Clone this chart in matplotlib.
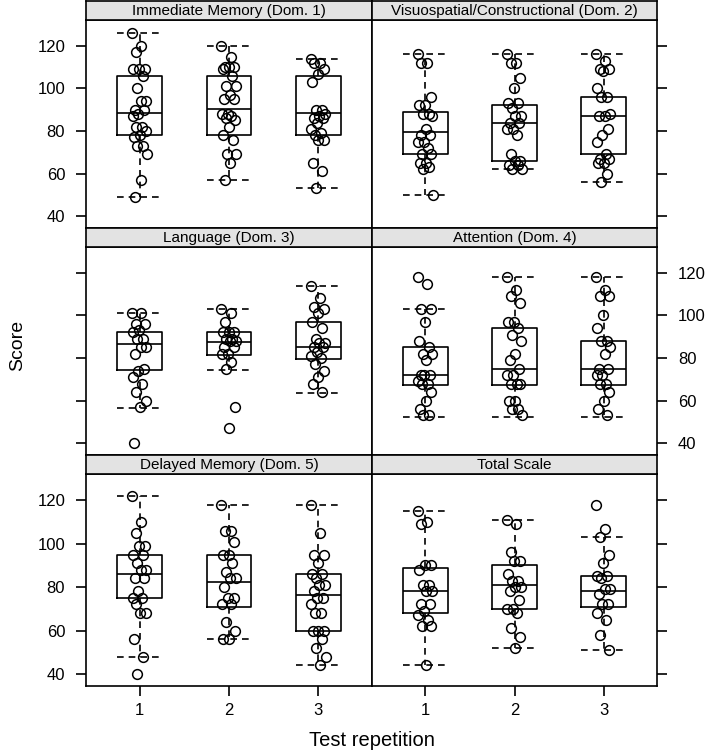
import numpy as np
import matplotlib.pyplot as plt

plt.rcParams['font.family'] = ['Liberation Sans', 'DejaVu Sans']

titles = ["Immediate Memory (Dom. 1)", "Visuospatial/Constructional (Dom. 2)",
          "Language (Dom. 3)", "Attention (Dom. 4)",
          "Delayed Memory (Dom. 5)", "Total Scale"]
reps = [1, 2, 3]

# scores per test repetition
im_pts = [[126, 120, 117, 109, 109, 109, 106, 100, 94, 94, 90, 90, 88, 87, 82, 82, 80, 78, 77, 73, 73, 69, 57, 49],
          [120, 115, 110, 110, 110, 109, 106, 101, 101, 97, 95, 95, 88, 88, 87, 86, 85, 82, 78, 76, 69, 69, 65, 57],
          [114, 112, 112, 109, 107, 103, 90, 90, 88, 87, 86, 86, 84, 81, 79, 78, 76, 76, 65, 61, 53]]
vis_pts = [[116, 112, 112, 96, 92, 92, 88, 88, 87, 81, 78, 78, 75, 75, 72, 69, 69, 65, 65, 63, 62, 50],
           [116, 112, 112, 105, 100, 93, 93, 91, 87, 87, 84, 84, 81, 81, 78, 69, 66, 66, 64, 64, 62, 62],
           [116, 113, 109, 109, 108, 100, 96, 96, 88, 87, 87, 81, 78, 75, 69, 67, 67, 65, 65, 60, 56]]
lang_pts = [[101, 101, 96, 96, 93, 92, 89, 89, 85, 85, 82, 75, 74, 71, 68, 64, 60, 57, 40],
            [103, 101, 97, 92, 92, 92, 89, 89, 88, 88, 85, 85, 82, 82, 78, 75, 57, 47],
            [114, 108, 104, 103, 101, 97, 94, 89, 87, 87, 85, 85, 83, 81, 80, 77, 74, 71, 68, 64]]
att_pts = [[118, 115, 103, 103, 97, 88, 85, 82, 82, 79, 72, 72, 72, 69, 68, 68, 64, 60, 56, 53, 53],
           [118, 112, 109, 106, 97, 97, 94, 91, 88, 82, 79, 75, 72, 72, 68, 68, 68, 60, 60, 56, 56, 53],
           [118, 112, 109, 109, 100, 94, 88, 88, 85, 82, 75, 75, 72, 72, 68, 68, 64, 60, 56, 53]]
del_pts = [[122, 110, 105, 99, 99, 95, 95, 91, 88, 88, 84, 84, 78, 75, 75, 72, 68, 68, 56, 48, 40],
           [118, 106, 106, 101, 95, 95, 91, 87, 84, 84, 80, 75, 75, 72, 72, 64, 60, 56, 56],
           [118, 105, 95, 95, 91, 86, 86, 84, 81, 81, 78, 75, 75, 72, 68, 68, 60, 60, 60, 56, 52, 48, 44]]
tot_pts = [[115, 110, 109, 90, 90, 88, 81, 81, 78, 78, 72, 72, 69, 67, 65, 62, 62, 44],
           [111, 109, 96, 92, 92, 86, 83, 83, 80, 80, 78, 74, 70, 70, 68, 61, 57, 52],
           [118, 107, 103, 95, 91, 85, 85, 84, 79, 79, 77, 72, 72, 68, 65, 58, 51]]

# box stats: (whisker low, q1, median, q3, whisker high)
im_box = [(49, 78, 88.5, 106, 126), (57, 78, 90.5, 106, 120), (53, 78, 88.5, 106, 114)]
vis_box = [(50, 69, 79.5, 89, 116), (62, 65.7, 84, 92, 116), (56, 69, 87, 96, 116)]
lang_box = [(56.5, 74.5, 86.5, 92, 101), (74.5, 81.5, 87.5, 92, 103), (63.5, 79.5, 85, 97, 114)]
att_box = [(52.5, 67.5, 72, 85, 103), (52.5, 67.5, 75, 94, 118), (52.5, 67.5, 75, 88, 118)]
del_box = [(48, 75, 86, 95, 122), (56, 71, 82.5, 95, 118), (44, 60, 76.5, 86, 118)]
tot_box = [(44, 68, 78, 89, 115), (52, 70, 81, 90, 111), (51, 71, 78, 85, 103)]

all_pts = [im_pts, vis_pts, lang_pts, att_pts, del_pts, tot_pts]
all_box = [im_box, vis_box, lang_box, att_box, del_box, tot_box]

W, H = 709, 751
fig = plt.figure(figsize=(W / 100, H / 100), dpi=100)

cols = [(86, 372), (372, 657)]
row_tops = [1, 228, 455]
row_bots = [228, 455, 686]
strip_h = 19
lw = 1.2

for i in range(6):
    r, c = i // 2, i % 2
    x0, x1 = cols[c]
    top, bot = row_tops[r], row_bots[r]
    ax = fig.add_axes([x0 / W, 1 - bot / H, (x1 - x0) / W, (bot - top - strip_h) / H])
    sax = fig.add_axes([x0 / W, 1 - (top + strip_h) / H, (x1 - x0) / W, strip_h / H])
    sax.set_facecolor('#e3e3e3')
    sax.set_xticks([])
    sax.set_yticks([])
    for s in sax.spines.values():
        s.set_linewidth(lw)
    sax.text(0.5, 0.45, titles[i], ha='center', va='center', fontsize=11, transform=sax.transAxes)

    stats = []
    for b in all_box[i]:
        stats.append(dict(whislo=b[0], q1=b[1], med=b[2], q3=b[3], whishi=b[4], fliers=[]))
    ax.bxp(stats, positions=reps, widths=0.5, capwidths=0.5, showfliers=False,
           boxprops=dict(color='black', lw=lw),
           medianprops=dict(color='black', lw=lw),
           whiskerprops=dict(color='black', lw=lw, linestyle=(0, (4, 3))),
           capprops=dict(color='black', lw=lw, linestyle=(0, (4, 3))))

    for g, pts in enumerate(all_pts[i]):
        n = len(pts)
        jit = ((np.arange(n) * 0.618) % 1 - 0.5) * 0.17
        ax.plot(np.array(reps)[g] + jit, pts, 'o', mfc='none', mec='black', ms=7, mew=1.1)

    for s in ax.spines.values():
        s.set_linewidth(lw)
    ax.set_xlim(0.4, 3.6)
    ax.set_ylim(34.4, 132.2)
    ax.set_yticks([40, 60, 80, 100, 120])
    ax.set_xticks(reps)
    ax.tick_params(direction='out', length=7, width=lw, pad=8, labelsize=12, colors='black')

    if r == 2:
        ax.set_xticklabels([str(v) for v in reps])
        ax.tick_params(axis='x', pad=5)
    else:
        ax.tick_params(axis='x', bottom=False, labelbottom=False)

    if r == 1:
        if c == 0:
            ax.tick_params(axis='y', left=True, labelleft=False, right=False)
        else:
            ax.yaxis.tick_right()
            ax.tick_params(axis='y', labelright=True)
    else:
        if c == 0:
            ax.yaxis.tick_left()
        else:
            ax.yaxis.tick_right()
            ax.tick_params(axis='y', labelright=False)

fig.text(18 / W, 1 - 345 / H, 'Score', rotation=90, ha='center', va='center', fontsize=14)
fig.text(372 / W, 1 - 746 / H, 'Test repetition', ha='center', va='baseline', fontsize=14.5)

fig.savefig('out.png', dpi=100)
